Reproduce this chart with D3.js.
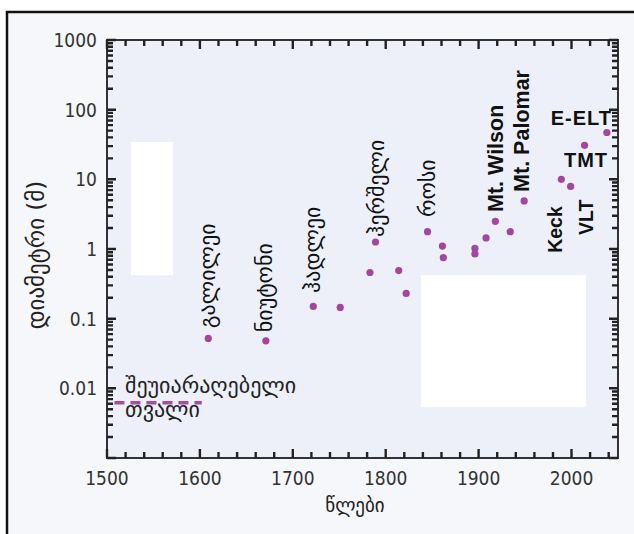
<!DOCTYPE html>
<html>
<head>
<meta charset="utf-8">
<script src="https://d3js.org/d3.v7.min.js"></script>
<style>
  body { margin: 0; background: #ffffff; }
  svg { display: block; }
</style>
</head>
<body>
<div id="chart"></div>
<script>
// telescope diameters (m) by year
const years     = [1609, 1671, 1722, 1751, 1783, 1789, 1814, 1822, 1845, 1861, 1862, 1896, 1896, 1908, 1918, 1934, 1949, 1989, 1999, 2014, 2038];
const diameters = [0.052, 0.048, 0.15, 0.145, 0.46, 1.26, 0.49, 0.23, 1.77, 1.1, 0.75, 1.02, 0.85, 1.44, 2.5, 1.77, 4.9, 10, 7.9, 30.8, 47];

// naked eye
const eyeYears = [1508, 1602];
const eyeDiameter = 0.0062;

const xTickLabels = [1500, 1600, 1700, 1800, 1900, 2000];
const yTickLabels = [1000, 100, 10, 1, 0.1, 0.01];

// rotated labels: text, year, diameter where the text starts
const vLabelText  = ["გალილეი", "ნიუტონი", "ჰადლეი", "ჰერშელი", "როსი", "Mt. Wilson", "Mt. Palomar", "Keck", "VLT"];
const vLabelYear  = [1608.7, 1671, 1721.7, 1790.6, 1845.5, 1917.6, 1945.6, 1982.2, 2015.6];
const vLabelValue = [0.073, 0.064, 0.234, 1.49, 2.88, 3.4, 6.6, 0.88, 1.59];
// horizontal labels, right aligned
const hLabelText  = ["TMT", "E-ELT"];
const hLabelYear  = [2039.3, 2043.6];
const hLabelValue = [15, 60];

// erased patches in the source picture
const patchYears  = [[1525.8, 1571], [1838, 2015.6]];
const patchValues = [[34.4, 0.42], [0.42, 0.0054]];

const width = 634, height = 534;
const mLeft = 107, mRight = 618, mTop = 40, mBottom = 458;

const svg = d3.select("#chart").append("svg")
  .attr("width", width)
  .attr("height", height);

// page background + frame
svg.append("rect").attr("width", width).attr("height", height).attr("fill", "#ffffff");
svg.append("rect").attr("x", 7).attr("y", 12).attr("width", width).attr("height", height)
  .attr("fill", "#f5f7fa");
svg.append("path").attr("d", `M7,${height}V12H${width}`)
  .attr("fill", "none").attr("stroke", "#111").attr("stroke-width", 2.5);

const x = d3.scaleLinear().domain([1500, 2050]).range([mLeft, mRight]);
const y = d3.scaleLog().domain([0.001, 1000]).range([mBottom, mTop]);

// plot area
svg.append("rect")
  .attr("x", mLeft).attr("y", mTop)
  .attr("width", mRight - mLeft).attr("height", mBottom - mTop)
  .attr("fill", "#edf0f8");

// white patches
svg.selectAll("rect.patch")
  .data(patchYears)
  .enter()
  .append("rect")
  .attr("class", "patch")
  .attr("x", d => x(d[0]))
  .attr("width", d => x(d[1]) - x(d[0]))
  .attr("y", (d, i) => y(patchValues[i][0]))
  .attr("height", (d, i) => y(patchValues[i][1]) - y(patchValues[i][0]))
  .attr("fill", "#ffffff");

const numFont = "'DejaVu Sans Condensed', 'DejaVu Sans', sans-serif";

// tick labels
svg.selectAll("text.xlab")
  .data(xTickLabels)
  .enter()
  .append("text")
  .attr("class", "xlab")
  .attr("x", d => x(d))
  .attr("y", mBottom + 27)
  .attr("text-anchor", "middle")
  .attr("font-family", numFont).attr("font-size", 19).attr("fill", "#333")
  .text(d => d);

svg.selectAll("text.ylab")
  .data(yTickLabels)
  .enter()
  .append("text")
  .attr("class", "ylab")
  .attr("x", mLeft - 10)
  .attr("y", d => y(d))
  .attr("dy", "0.36em")
  .attr("text-anchor", "end")
  .attr("font-family", numFont).attr("font-size", 19).attr("fill", "#333")
  .text(d => String(d));

// frame of plot
svg.append("rect")
  .attr("x", mLeft).attr("y", mTop)
  .attr("width", mRight - mLeft).attr("height", mBottom - mTop)
  .attr("fill", "none").attr("stroke", "#333").attr("stroke-width", 2);

// tick marks, pointing inward on all four sides
const xMinor = d3.range(1520, 2050, 20).filter(v => v % 100 != 0);
const yAll = y.ticks();
const yMajor = yAll.filter(v => Math.abs(Math.log10(v) - Math.round(Math.log10(v))) < 1e-9);

let tickPath = "";
xTickLabels.concat(xMinor).forEach(function(v) {
  const len = xTickLabels.indexOf(v) >= 0 ? 9 : 6;
  const px = x(v).toFixed(1);
  tickPath += `M${px},${mBottom}V${mBottom - len}M${px},${mTop}V${mTop + len}`;
});
yAll.forEach(function(v) {
  const len = yMajor.indexOf(v) >= 0 ? 9 : 6;
  const py = y(v).toFixed(1);
  tickPath += `M${mLeft},${py}H${mLeft + len}M${mRight},${py}H${mRight - len}`;
});
svg.append("path")
  .attr("d", tickPath)
  .attr("fill", "none")
  .attr("stroke", "#222")
  .attr("stroke-width", 2.4);

// naked eye line
svg.append("line")
  .attr("x1", x(eyeYears[0])).attr("x2", x(eyeYears[1]))
  .attr("y1", y(eyeDiameter)).attr("y2", y(eyeDiameter))
  .attr("stroke", "#a64ca6").attr("stroke-width", 3.5)
  .attr("stroke-dasharray", "10,6");

const geoFont = "'DejaVu Sans', sans-serif";

svg.append("text")
  .attr("x", x(1519.4)).attr("y", y(0.0086))
  .attr("font-family", geoFont).attr("font-size", 22).attr("fill", "#222")
  .text("შეუიარაღებელი");
svg.append("text")
  .attr("x", x(1519.4)).attr("y", y(0.0039))
  .attr("font-family", geoFont).attr("font-size", 22).attr("fill", "#222")
  .text("თვალი");

// points
svg.selectAll("circle")
  .data(years)
  .enter()
  .append("circle")
  .attr("cx", d => x(d))
  .attr("cy", (d, i) => y(diameters[i]))
  .attr("r", 3.6)
  .attr("fill", "#a3469f");

// vertical labels
vLabelText.forEach(function(t, i) {
  const latin = /[A-Za-z]/.test(t);
  svg.append("text")
    .attr("transform", `translate(${x(vLabelYear[i])},${y(vLabelValue[i])}) rotate(-90)`)
    .attr("dy", latin ? "0.36em" : "0.3em")
    .attr("font-family", latin ? "'Liberation Sans', Arial, sans-serif" : geoFont)
    .attr("font-weight", latin ? "bold" : "normal")
    .attr("font-size", latin ? (t.length > 4 ? 21.5 : 19.5) : 22)
    .attr("fill", "#111")
    .text(t);
});

// horizontal labels
hLabelText.forEach(function(t, i) {
  svg.append("text")
    .attr("x", x(hLabelYear[i])).attr("y", y(hLabelValue[i]))
    .attr("text-anchor", "end")
    .attr("font-family", "'Liberation Sans', Arial, sans-serif")
    .attr("font-weight", "bold")
    .attr("font-size", 20)
    .attr("letter-spacing", 1)
    .attr("fill", "#111")
    .text(t);
});

// axis titles
svg.append("text")
  .attr("transform", "translate(37,255) rotate(-90)")
  .attr("dy", "0.3em")
  .attr("text-anchor", "middle")
  .attr("font-family", geoFont).attr("font-size", 23).attr("fill", "#222")
  .text("დიამეტრი (მ)");

svg.append("text")
  .attr("x", 355).attr("y", 512)
  .attr("text-anchor", "middle")
  .attr("font-family", geoFont).attr("font-size", 19).attr("fill", "#222")
  .text("წლები");
</script>
</body>
</html>
